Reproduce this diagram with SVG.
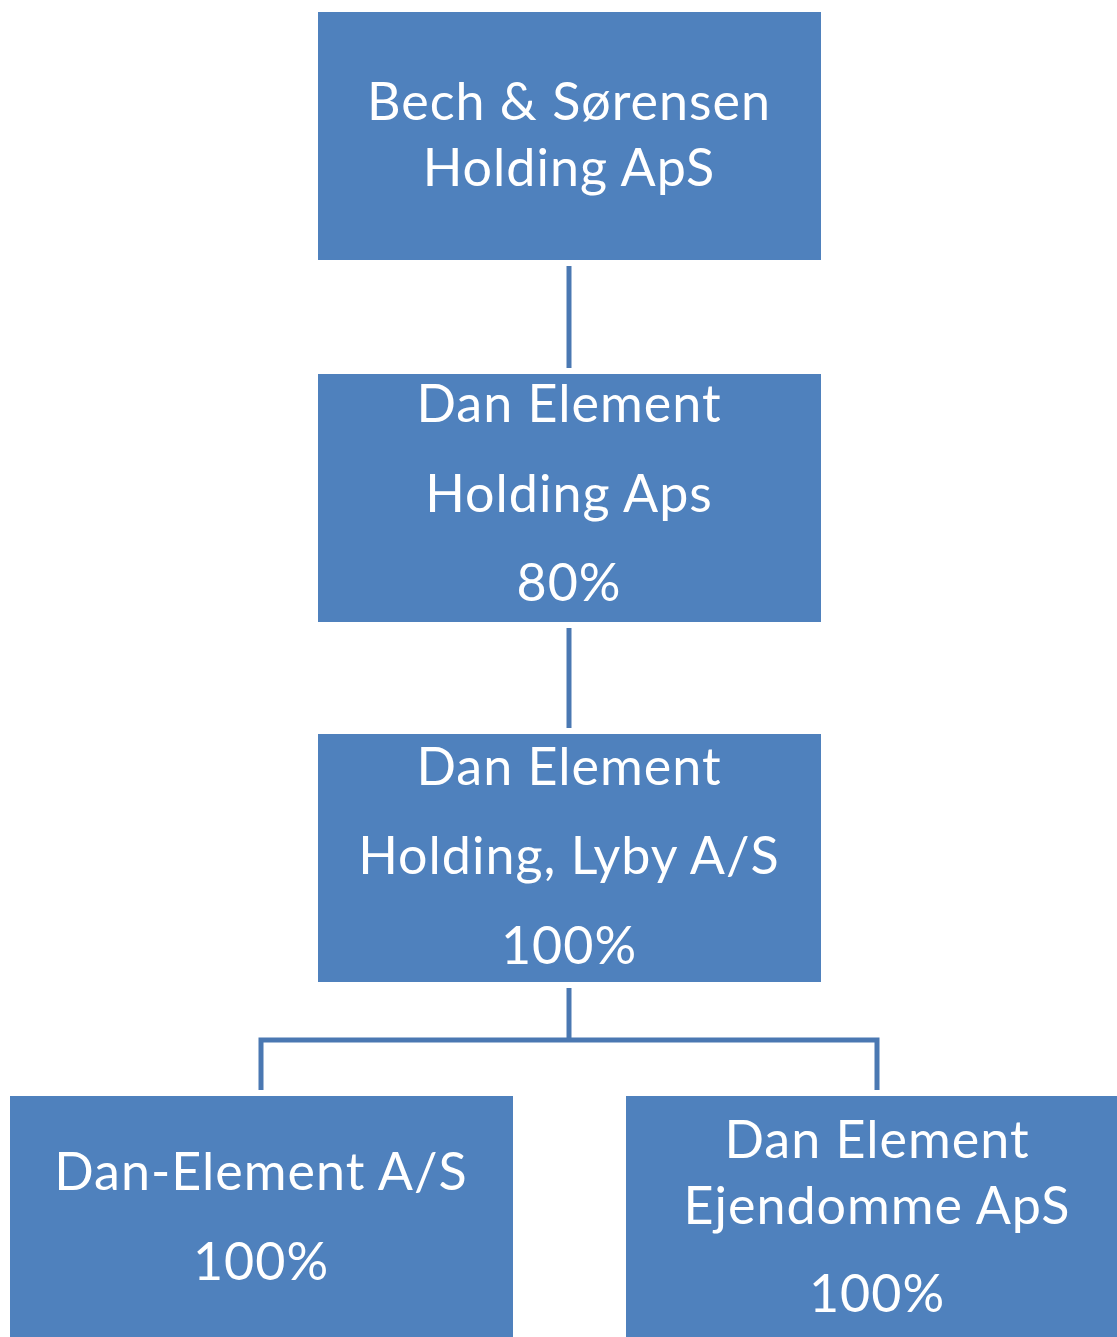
<svg xmlns="http://www.w3.org/2000/svg" width="1117" height="1337" viewBox="0 0 1117 1337">
<style>
.box{fill:#4f81bd;}
.t{font-family:Lato,"Open Sans",sans-serif;font-size:52px;letter-spacing:1px;fill:#ffffff;text-anchor:middle;}
.c{stroke:#4a78b2;stroke-width:5;fill:none;}
</style>
<rect width="1117" height="1337" fill="#ffffff"/>
<g id="connectors">
<line class="c" x1="569" y1="266" x2="569" y2="368"/>
<line class="c" x1="569" y1="628" x2="569" y2="728"/>
<polyline class="c" points="569,988 569,1040"/>
<polyline class="c" points="261,1090 261,1040 877,1040 877,1090"/>
</g>
<g id="n1"><rect class="box" x="318" y="12" width="503" height="248"/>
<text class="t" x="569" y="120">Bech &amp; Sørensen</text><text class="t" x="569" y="186">Holding ApS</text></g>
<g id="n2"><rect class="box" x="318" y="374" width="503" height="248"/>
<text class="t" x="569" y="422">Dan Element</text><text class="t" x="569" y="512">Holding Aps</text><text class="t" x="569" y="601">80%</text></g>
<g id="n3"><rect class="box" x="318" y="734" width="503" height="248"/>
<text class="t" x="569" y="785">Dan Element</text><text class="t" x="569" y="874">Holding, Lyby A/S</text><text class="t" x="569" y="964">100%</text></g>
<g id="n4"><rect class="box" x="10" y="1096" width="503" height="241"/>
<text class="t" x="261" y="1190">Dan-Element A/S</text><text class="t" x="261" y="1280">100%</text></g>
<g id="n5"><rect class="box" x="626" y="1096" width="491" height="241"/>
<text class="t" x="877" y="1158">Dan Element</text><text class="t" x="877" y="1224">Ejendomme ApS</text><text class="t" x="877" y="1312">100%</text></g>
</svg>
